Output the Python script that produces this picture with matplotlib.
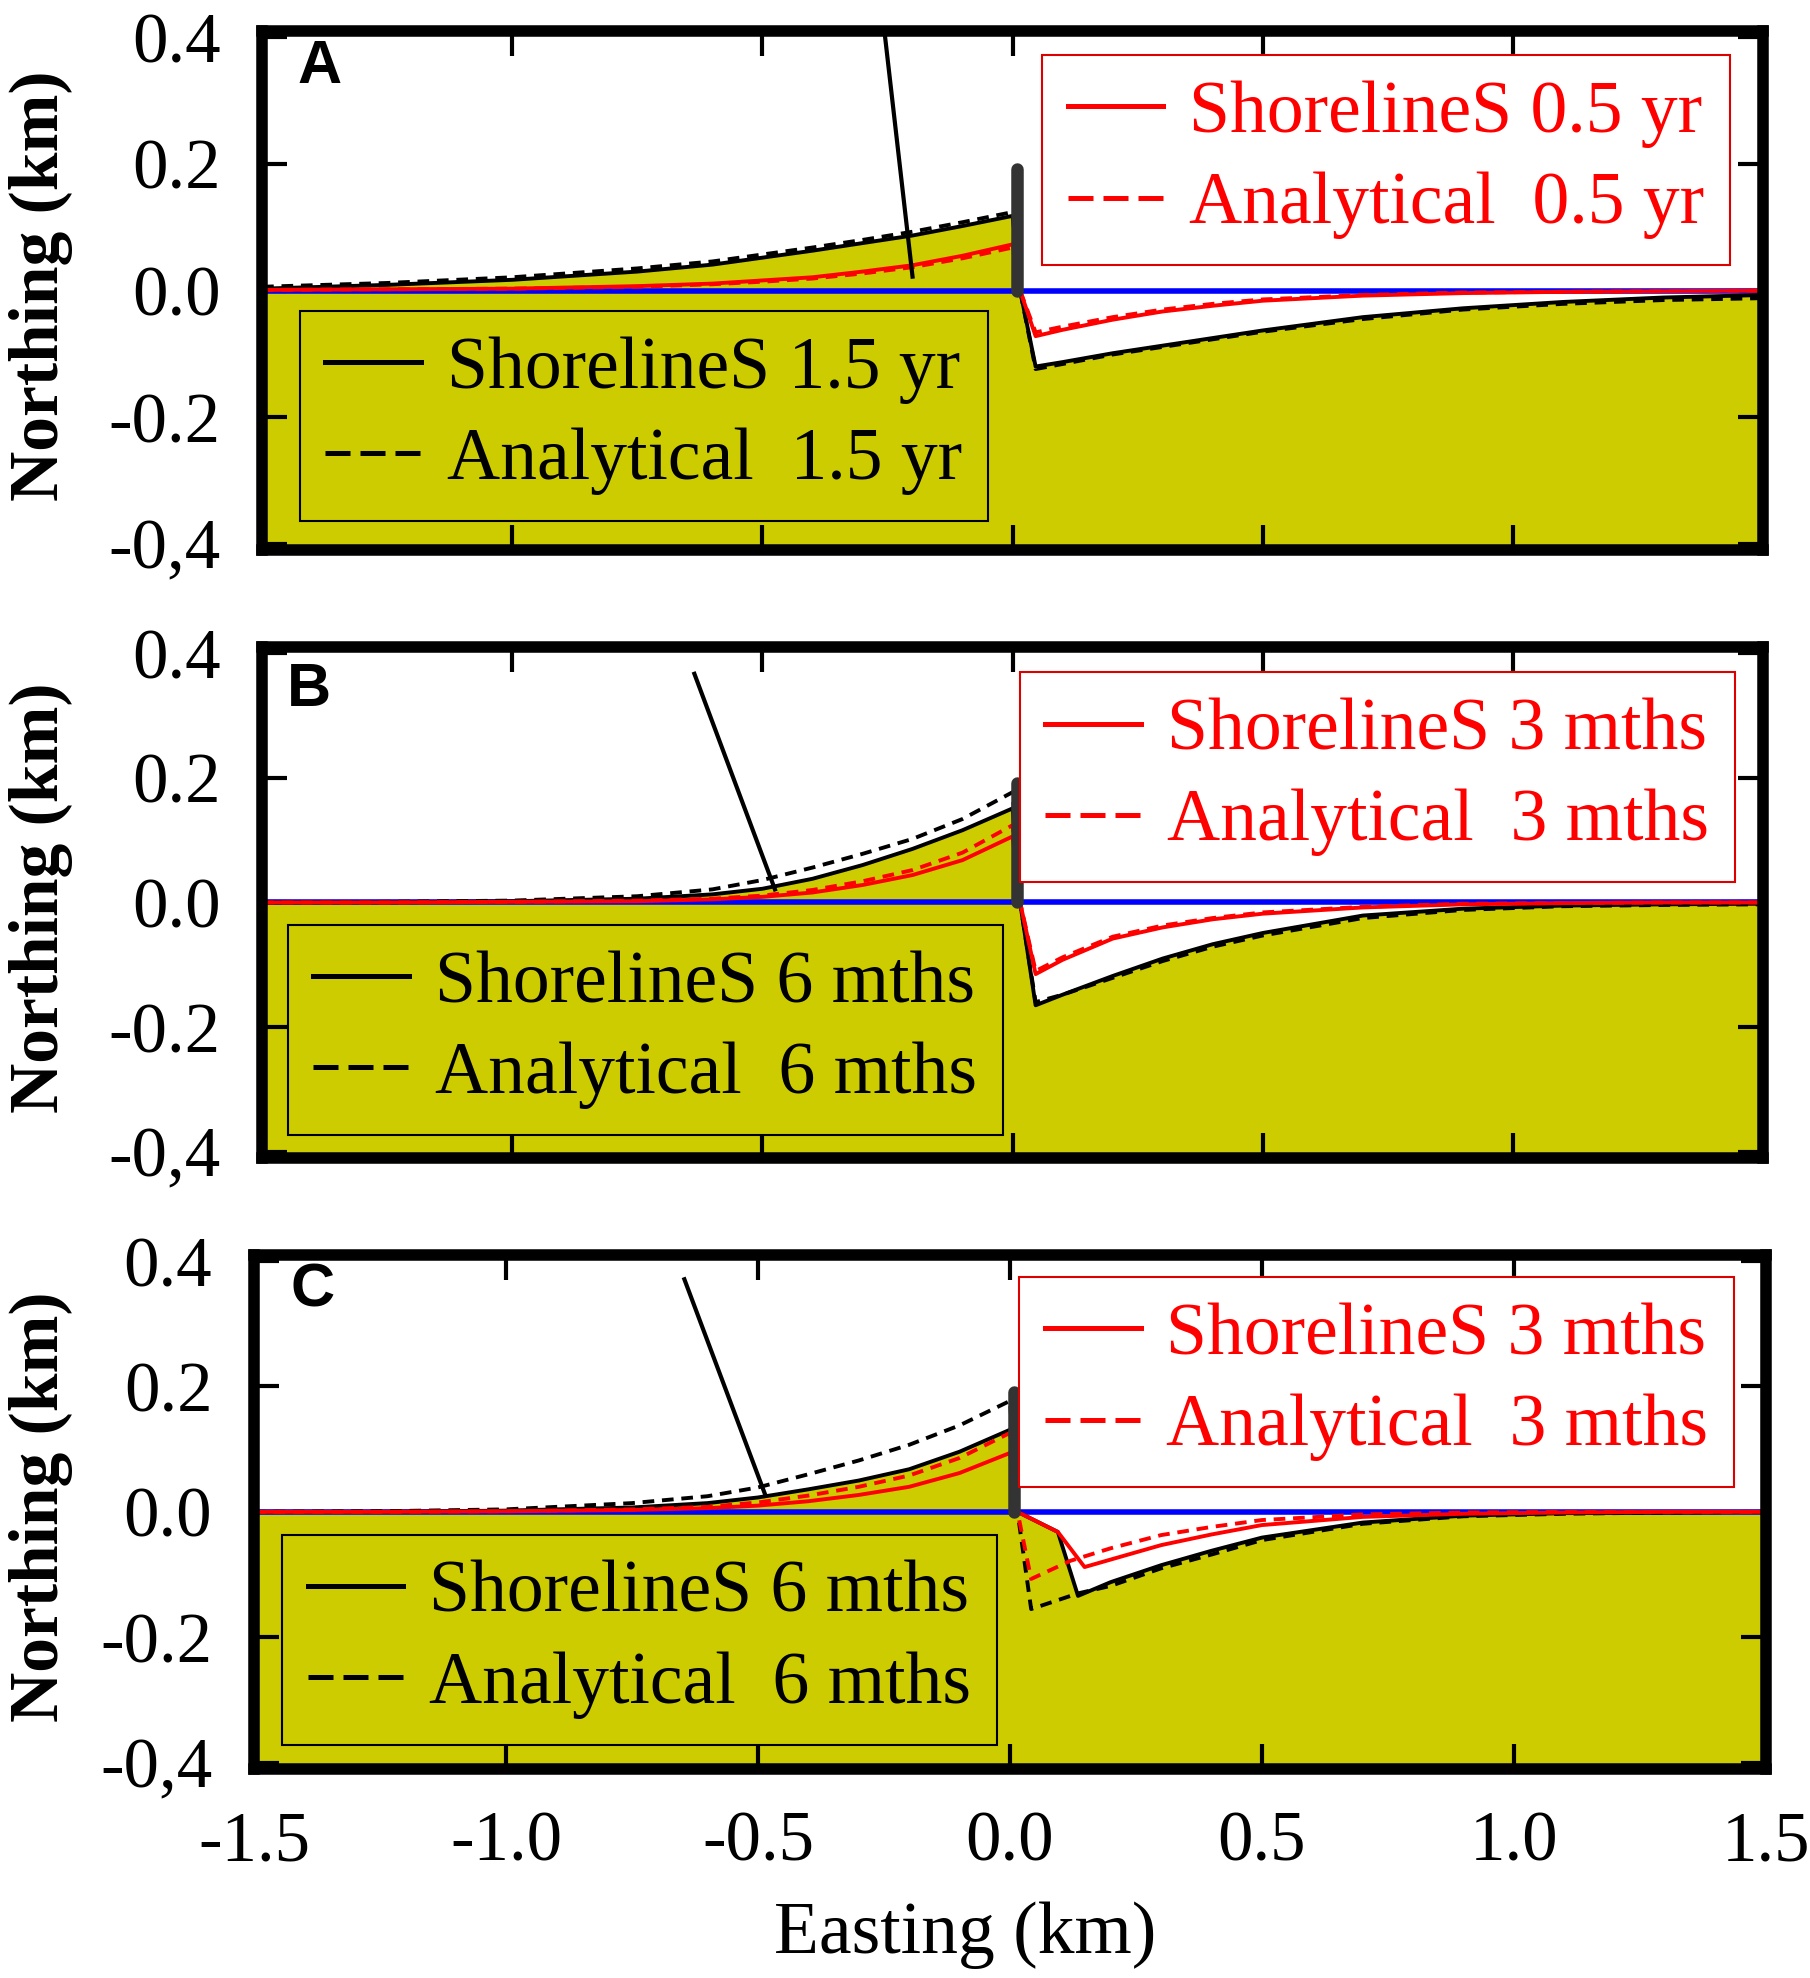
import numpy as np
import matplotlib
matplotlib.use("Agg")
import matplotlib.pyplot as plt
from matplotlib.lines import Line2D

# shared easting positions (km)
x_left = [-1.5, -1.25, -1.0, -0.75, -0.6, -0.5, -0.4, -0.3, -0.2, -0.1, 0.0]
x_right = [0.015, 0.046, 0.1, 0.2, 0.3, 0.4, 0.5, 0.7, 0.9, 1.1, 1.3, 1.5]

# panel A: ShorelineS / analytical, 1.5 yr (black) and 0.5 yr (red)
a_black_left = [0.003, 0.009, 0.017, 0.030, 0.041, 0.052, 0.063, 0.075, 0.087, 0.102, 0.118]
a_black_dash_left = [0.006, 0.012, 0.021, 0.035, 0.046, 0.057, 0.068, 0.080, 0.093, 0.108, 0.124]
a_red_left = [0.001, 0.002, 0.003, 0.007, 0.011, 0.016, 0.021, 0.030, 0.040, 0.055, 0.073]
a_red_dash_left = [0.001, 0.002, 0.003, 0.006, 0.010, 0.014, 0.019, 0.027, 0.037, 0.051, 0.068]
a_black_right = [0.0, -0.120, -0.113, -0.099, -0.087, -0.075, -0.063, -0.042, -0.028, -0.018, -0.011, -0.007]
a_black_dash_right = [0.0, -0.124, -0.116, -0.101, -0.089, -0.077, -0.065, -0.045, -0.030, -0.021, -0.015, -0.012]
a_red_right = [0.0, -0.072, -0.062, -0.046, -0.033, -0.024, -0.016, -0.008, -0.004, -0.002, -0.001, 0.0]
a_red_dash_right = [0.0, -0.066, -0.057, -0.042, -0.030, -0.021, -0.014, -0.007, -0.003, -0.002, -0.001, 0.0]

# panel B: 6 mths (black) and 3 mths (red)
b_black_left = [0.0, 0.0, 0.002, 0.006, 0.013, 0.022, 0.038, 0.060, 0.086, 0.116, 0.151]
b_black_dash_left = [0.0, 0.001, 0.003, 0.010, 0.021, 0.036, 0.056, 0.078, 0.102, 0.134, 0.177]
b_red_left = [0.0, 0.0, 0.001, 0.002, 0.005, 0.009, 0.016, 0.028, 0.044, 0.068, 0.106]
b_red_dash_left = [0.0, 0.0, 0.001, 0.003, 0.006, 0.011, 0.020, 0.034, 0.052, 0.080, 0.124]
b_black_right = [0.0, -0.165, -0.148, -0.118, -0.090, -0.067, -0.049, -0.021, -0.010, -0.005, -0.003, -0.002]
b_black_dash_right = [0.0, -0.160, -0.148, -0.121, -0.094, -0.071, -0.053, -0.025, -0.012, -0.006, -0.004, -0.003]
b_red_right = [0.0, -0.115, -0.092, -0.058, -0.040, -0.027, -0.018, -0.008, -0.003, -0.001, 0.0, 0.0]
b_red_dash_right = [0.0, -0.110, -0.088, -0.055, -0.037, -0.025, -0.016, -0.007, -0.002, -0.001, 0.0, 0.0]

# panel C: 6 mths (black) and 3 mths (red), right side has its own kinks
c_black_left = [0.0, 0.0, 0.002, 0.007, 0.014, 0.023, 0.036, 0.050, 0.068, 0.096, 0.131]
c_black_dash_left = [0.0, 0.001, 0.004, 0.014, 0.025, 0.039, 0.060, 0.082, 0.107, 0.138, 0.177]
c_red_left = [0.0, 0.0, 0.001, 0.003, 0.006, 0.010, 0.017, 0.027, 0.040, 0.062, 0.094]
c_red_dash_left = [0.0, 0.0, 0.001, 0.004, 0.008, 0.015, 0.026, 0.040, 0.058, 0.086, 0.126]
c_black_x_right = [0.015, 0.095, 0.135, 0.2, 0.3, 0.4, 0.5, 0.7, 0.9, 1.1, 1.3, 1.5]
c_black_right = [0.0, -0.032, -0.134, -0.112, -0.085, -0.062, -0.041, -0.017, -0.006, -0.002, -0.001, 0.0]
c_black_dash_x_right = [0.015, 0.042, 0.135, 0.2, 0.3, 0.4, 0.5, 0.7, 0.9, 1.1, 1.3, 1.5]
c_black_dash_right = [0.0, -0.155, -0.130, -0.118, -0.090, -0.068, -0.045, -0.019, -0.007, -0.003, -0.001, 0.0]
c_red_x_right = [0.015, 0.095, 0.148, 0.2, 0.3, 0.4, 0.5, 0.7, 0.9, 1.1, 1.3, 1.5]
c_red_right = [0.0, -0.032, -0.088, -0.076, -0.053, -0.036, -0.021, -0.008, -0.003, -0.001, 0.0, 0.0]
c_red_dash_x_right = [0.015, 0.042, 0.12, 0.2, 0.3, 0.4, 0.5, 0.7, 0.9, 1.1, 1.3, 1.5]
c_red_dash_right = [0.0, -0.107, -0.078, -0.058, -0.037, -0.024, -0.013, -0.004, -0.001, 0.0, 0.0, 0.0]

# wave direction lines and groyne
wave_x = {"A": [-0.262, -0.20], "B": [-0.636, -0.475], "C": [-0.646, -0.485]}
wave_y = {"A": [0.45, 0.022], "B": [0.367, 0.021], "C": [0.371, 0.026]}
groyne_x = 0.008
groyne_top = 0.192

labels_black = {"A": ["ShorelineS 1.5 yr", "Analytical  1.5 yr"],
                "B": ["ShorelineS 6 mths", "Analytical  6 mths"],
                "C": ["ShorelineS 6 mths", "Analytical  6 mths"]}
labels_red = {"A": ["ShorelineS 0.5 yr", "Analytical  0.5 yr"],
              "B": ["ShorelineS 3 mths", "Analytical  3 mths"],
              "C": ["ShorelineS 3 mths", "Analytical  3 mths"]}

yticks = [-0.4, -0.2, 0.0, 0.2, 0.4]
ytick_labels = ["-0,4", "-0.2", "0.0", "0.2", "0.4"]
xticks = [-1.5, -1.0, -0.5, 0.0, 0.5, 1.0, 1.5]
xtick_labels = ["-1.5", "-1.0", "-0.5", "0.0", "0.5", "1.0", "1.5"]

sand = "#cccc00"
serif = "Liberation Serif"
fs = 51

panels = {
    "A": dict(rect=[0.1448, 0.7219, 0.8293, 0.2624],
              xr=[x_right] * 4,
              ys=[a_black_left, a_black_dash_left, a_red_left, a_red_dash_left],
              yr=[a_black_right, a_black_dash_right, a_red_right, a_red_dash_right],
              red_anchor=(0.978, 0.954), black_anchor=(0.025, 0.056), letter=(0.038, 0.929)),
    "B": dict(rect=[0.1448, 0.4146, 0.8293, 0.2583],
              xr=[x_right] * 4,
              ys=[b_black_left, b_black_dash_left, b_red_left, b_red_dash_left],
              yr=[b_black_right, b_black_dash_right, b_red_right, b_red_dash_right],
              red_anchor=(0.981, 0.951), black_anchor=(0.017, 0.045), letter=(0.031, 0.914)),
    "C": dict(rect=[0.1403, 0.1057, 0.8354, 0.2599],
              xr=[c_black_x_right, c_black_dash_x_right, c_red_x_right, c_red_dash_x_right],
              ys=[c_black_left, c_black_dash_left, c_red_left, c_red_dash_left],
              yr=[c_black_right, c_black_dash_right, c_red_right, c_red_dash_right],
              red_anchor=(0.979, 0.957), black_anchor=(0.0185, 0.047), letter=(0.039, 0.93)),
}

fig = plt.figure(figsize=(18.1, 19.78), dpi=100)

for name, p in panels.items():
    ax = fig.add_axes(p["rect"])
    ax.set_xlim(-1.5, 1.5)
    ax.set_ylim(-0.41, 0.41)

    # sand fill below the ShorelineS shoreline (black solid)
    xf = np.concatenate([x_left, p["xr"][0]])
    yf = np.concatenate([p["ys"][0], p["yr"][0]])
    ax.fill_between(xf, yf, -0.5, color=sand, lw=0, zorder=1)

    ax.axhline(0, color="#0000ff", lw=4, zorder=2)

    colors = ["black", "black", "#ff0000", "#ff0000"]
    for i in range(4):
        xx = np.concatenate([x_left, p["xr"][i]])
        yy = np.concatenate([p["ys"][i], p["yr"][i]])
        if i % 2 == 0:
            ax.plot(xx, yy, color=colors[i], lw=2.8, zorder=3)
        else:
            ax.plot(xx, yy, color=colors[i], lw=2.8, dashes=(3, 2), zorder=3)

    ax.plot([groyne_x, groyne_x], [0, groyne_top], color="#333333", lw=9,
            solid_capstyle="round", zorder=4)
    ax.plot(wave_x[name], wave_y[name], color="black", lw=3, zorder=4)

    for s in ax.spines.values():
        s.set_linewidth(8.3)
        s.set_zorder(6)
    ax.set_yticks(yticks)
    ax.set_yticklabels(ytick_labels, family=serif, fontsize=fs)
    ax.set_xticks(xticks)
    if name == "C":
        ax.set_xticklabels(xtick_labels, family=serif, fontsize=fs)
    else:
        ax.set_xticklabels([])
    ax.tick_params(direction="in", length=18, width=3, top=True, right=True)
    ax.tick_params(axis="y", pad=30)
    ax.tick_params(axis="x", pad=30)

    h_red = [Line2D([], [], color="#ff0000", lw=3.6),
             Line2D([], [], color="#ff0000", lw=3.6, dashes=(5, 2))]
    h_blk = [Line2D([], [], color="black", lw=3.6),
             Line2D([], [], color="black", lw=3.6, dashes=(5, 2))]
    leg_kw = dict(prop=dict(family=serif, size=53), fancybox=False, framealpha=1,
                  handlelength=1.3, handletextpad=0.35, borderpad=0.35,
                  labelspacing=0.32, borderaxespad=0)
    leg1 = ax.legend(h_red, labels_red[name], loc="upper right",
                     bbox_to_anchor=p["red_anchor"], labelcolor="#ff0000",
                     edgecolor="#dd0000", facecolor="white", **leg_kw)
    leg1.get_frame().set_linewidth(1.5)
    leg1.set_zorder(7)
    ax.add_artist(leg1)
    leg2 = ax.legend(h_blk, labels_black[name], loc="lower left",
                     bbox_to_anchor=p["black_anchor"], labelcolor="black",
                     edgecolor="black", facecolor=sand, **leg_kw)
    leg2.get_frame().set_linewidth(1.5)
    leg2.set_zorder(7)

    ax.text(p["letter"][0], p["letter"][1], name, transform=ax.transAxes,
            ha="center", va="center", family="Liberation Sans", weight="bold",
            fontsize=44, zorder=8)
    ax.text((41 - p["rect"][0] * 1810) / (p["rect"][2] * 1810), 0.51, "Northing (km)",
            transform=ax.transAxes, rotation=90, ha="center", va="center",
            family=serif, weight="bold", fontsize=50)

fig.text(0.533, 0.0217, "Easting (km)", ha="center", va="center", family=serif, fontsize=53)

fig.savefig("out.png", dpi=100)
